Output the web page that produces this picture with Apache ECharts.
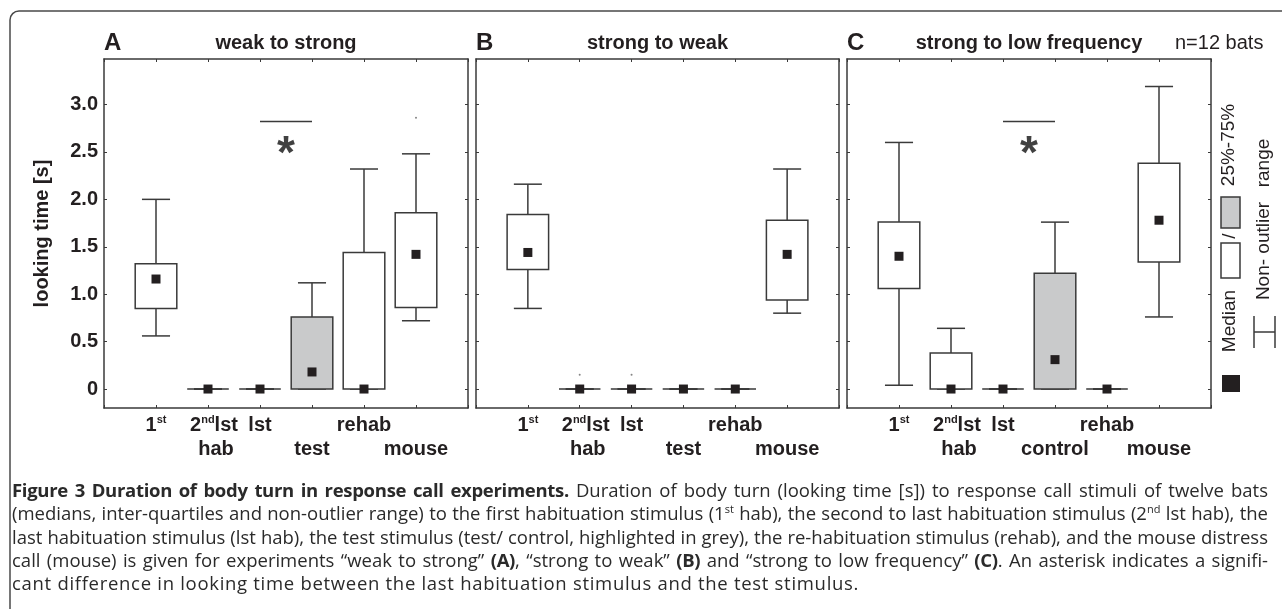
<!DOCTYPE html>
<html>
<head>
<meta charset="utf-8">
<script src="https://cdn.jsdelivr.net/npm/echarts@6.0.0/dist/echarts.min.js"></script>
<style>
  html, body { margin: 0; padding: 0; background: #fff; }
  #wrap { position: relative; width: 1282px; height: 609px; overflow: hidden; }
  #chart { width: 1282px; height: 609px; }
  #caption {
    position: absolute; left: 12px; top: 478px; width: 1256px;
    font-family: "Open Sans", "Noto Sans", sans-serif; font-size: 18.5px; line-height: 23.3px; color: #2a2a2a;
  }
  #caption div { text-align: justify; text-align-last: justify; }
  #caption div.last { text-align-last: left; letter-spacing: 0.7px; }
  #caption b { letter-spacing: -0.3px; }
  #caption sup { font-size: 11px; line-height: 0; vertical-align: 7px; }
</style>
</head>
<body>
<div id="wrap">
  <div id="chart"></div>
  <div id="caption">
    <div><b>Figure 3 Duration of body turn in response call experiments.</b> Duration of body turn (looking time [s]) to response call stimuli of twelve bats</div>
    <div>(medians, inter-quartiles and non-outlier range) to the first habituation stimulus (1<sup>st</sup> hab), the second to last habituation stimulus (2<sup>nd</sup> lst hab), the</div>
    <div>last habituation stimulus (lst hab), the test stimulus (test/ control, highlighted in grey), the re-habituation stimulus (rehab), and the mouse distress</div>
    <div>call (mouse) is given for experiments “weak to strong” <b>(A)</b>, “strong to weak” <b>(B)</b> and “strong to low frequency” <b>(C)</b>. An asterisk indicates a signifi-</div>
    <div class="last">cant difference in looking time between the last habituation stimulus and the test stimulus.</div>
  </div>
</div>
<script>
  // stimuli, in order on the x axis (positions 1..6)
  const STIMULI = ['1st', '2nd lst hab', 'lst hab', 'test', 'rehab', 'mouse'];
  // tick labels, two staggered rows (rich text markup for superscripts)
  const ROW1_LABELS = ['1{s|st}', '{g|}2{s|nd}lst', 'lst', '', 'rehab', ''];
  const ROW2_LABELS_AB = ['', '{h|hab}', '', 'test', '', 'mouse'];
  const ROW2_LABELS_C = ['', '{h|hab}', '', 'control', '', 'mouse'];
  const Y_TICKS = [0, 0.5, 1, 1.5, 2, 2.5, 3];

  // looking time [s]: [lower whisker, 25%, median, 75%, upper whisker]
  const weakToStrong = [
    [0.56, 0.85, 1.16, 1.32, 2.00],
    [0, 0, 0, 0, 0],
    [0, 0, 0, 0, 0],
    [0, 0, 0.18, 0.76, 1.12],
    [0, 0, 0, 1.44, 2.32],
    [0.72, 0.86, 1.42, 1.86, 2.48]
  ];
  const strongToWeak = [
    [0.85, 1.26, 1.44, 1.84, 2.16],
    [0, 0, 0, 0, 0],
    [0, 0, 0, 0, 0],
    [0, 0, 0, 0, 0],
    [0, 0, 0, 0, 0],
    [0.80, 0.94, 1.42, 1.78, 2.32]
  ];
  const strongToLowFreq = [
    [0.04, 1.06, 1.40, 1.76, 2.60],
    [0, 0, 0, 0.38, 0.64],
    [0, 0, 0, 0, 0],
    [0, 0, 0.31, 1.22, 1.76],
    [0, 0, 0, 0, 0],
    [0.76, 1.34, 1.78, 2.38, 3.19]
  ];
  // test stimulus highlighted in grey
  const HIGHLIGHT = [0, 0, 0, 1, 0, 0];
  // single outlier points
  const outliersA = [[6, 2.86]];
  const outliersB = [[2, 0.15], [3, 0.15]];
  // significance bar between lst hab and test, asterisk below it
  const sigBar = [[3, 2.82], [4, 2.82]];
  const sigStar = [[3.5, 2.57]];

  const FONT = '"Liberation Sans", Arial, Helvetica, sans-serif';
  const TEXT = '#231f20';
  const LINE = '#3a3a3a';

  const panels = [
    { letter: 'A', title: 'weak to strong', stats: weakToStrong, row2: ROW2_LABELS_AB, outliers: outliersA, sig: true, left: 104, width: 364 },
    { letter: 'B', title: 'strong to weak', stats: strongToWeak, row2: ROW2_LABELS_AB, outliers: outliersB, sig: false, left: 476, width: 363 },
    { letter: 'C', title: 'strong to low frequency', stats: strongToLowFreq, row2: ROW2_LABELS_C, outliers: [], sig: true, left: 847, width: 364 }
  ];

  const GRID_TOP = 59, GRID_H = 349;

  function renderBox(params, api) {
    const x = api.value(0);
    const unit = api.size([1, 0])[0];
    const boxHalf = unit * 0.4, capHalf = unit * 0.27, med = 9;
    const cx = api.coord([x, 0])[0];
    const yLo = api.coord([x, api.value(1)])[1];
    const yQ1 = api.coord([x, api.value(2)])[1];
    const yMed = api.coord([x, api.value(3)])[1];
    const yQ3 = api.coord([x, api.value(4)])[1];
    const yHi = api.coord([x, api.value(5)])[1];
    const st = { stroke: LINE, lineWidth: 1.5 };
    return {
      type: 'group',
      children: [
        { type: 'line', shape: { x1: cx, y1: yQ3, x2: cx, y2: yHi }, style: st },
        { type: 'line', shape: { x1: cx - capHalf, y1: yHi, x2: cx + capHalf, y2: yHi }, style: st },
        { type: 'line', shape: { x1: cx, y1: yQ1, x2: cx, y2: yLo }, style: st },
        { type: 'line', shape: { x1: cx - capHalf, y1: yLo, x2: cx + capHalf, y2: yLo }, style: st },
        { type: 'rect', shape: { x: cx - boxHalf, y: yQ3, width: boxHalf * 2, height: yQ1 - yQ3 },
          style: { fill: api.value(6) ? '#c9cacb' : '#fff', stroke: LINE, lineWidth: 1.5 } },
        { type: 'rect', shape: { x: cx - med / 2, y: yMed - med / 2, width: med, height: med }, style: { fill: TEXT } }
      ]
    };
  }

  const axisLine = { show: true, onZero: false, lineStyle: { color: LINE, width: 1.5 } };
  const axisTick = { show: true, inside: true, length: 3, lineStyle: { color: LINE, width: 1 } };
  const labelRich = {
    s: { fontSize: 11, fontWeight: 'bold', fontFamily: FONT, color: TEXT, verticalAlign: 'top', lineHeight: 12 },
    g: { width: 12 },
    h: { fontSize: 20, fontWeight: 'bold', fontFamily: FONT, color: TEXT, padding: [0, 0, 0, 16] }
  };

  const grid = [], xAxis = [], yAxis = [], series = [];

  panels.forEach((p, i) => {
    grid.push({ left: p.left, top: GRID_TOP, width: p.width, height: GRID_H, outerBoundsMode: 'none' });
    const xBase = { gridIndex: i, type: 'value', min: 0, max: 7, interval: 1, splitLine: { show: false } };
    xAxis.push(Object.assign({}, xBase, {
      position: 'bottom', axisLine, axisTick,
      axisLabel: {
        show: true, margin: 6, fontSize: 20, fontWeight: 'bold', fontFamily: FONT, color: TEXT, lineHeight: 22,
        rich: labelRich, formatter: v => ROW1_LABELS[v - 1] || ''
      }
    }));
    xAxis.push(Object.assign({}, xBase, {
      position: 'bottom', axisLine: { show: false }, axisTick: { show: false },
      axisLabel: {
        show: true, margin: 30, fontSize: 20, fontWeight: 'bold', fontFamily: FONT, color: TEXT, lineHeight: 22,
        rich: labelRich, formatter: v => p.row2[v - 1] || ''
      }
    }));
    xAxis.push(Object.assign({}, xBase, {
      position: 'top', axisLine, axisTick, axisLabel: { show: false }
    }));

    const yBase = { gridIndex: i, type: 'value', min: -0.2, max: 3.48, splitLine: { show: false } };
    yAxis.push(Object.assign({}, yBase, {
      position: 'left', axisLine,
      axisTick: Object.assign({ customValues: Y_TICKS }, axisTick),
      axisLabel: {
        show: i === 0, customValues: Y_TICKS, margin: 6, fontSize: 20, fontWeight: 'bold', fontFamily: FONT, color: TEXT,
        formatter: v => (v === 0 ? '0' : v.toFixed(1))
      },
      name: i === 0 ? 'looking time [s]' : '',
      nameLocation: 'middle', nameRotate: 90, nameGap: 52,
      nameTextStyle: { fontSize: 20, fontWeight: 'bold', fontFamily: FONT, color: TEXT }
    }));
    yAxis.push(Object.assign({}, yBase, {
      position: 'right', axisLine,
      axisTick: Object.assign({ customValues: Y_TICKS }, axisTick),
      axisLabel: { show: false }
    }));

    const xi = i * 3, yi = i * 2;
    series.push({
      type: 'custom', xAxisIndex: xi, yAxisIndex: yi, renderItem: renderBox, silent: true,
      encode: { x: 0, y: [1, 2, 3, 4, 5] },
      data: p.stats.map((s, k) => [k + 1].concat(s, HIGHLIGHT[k]))
    });
    if (p.outliers.length) {
      series.push({
        type: 'scatter', xAxisIndex: xi, yAxisIndex: yi, silent: true,
        symbolSize: 2, itemStyle: { color: '#666' }, data: p.outliers
      });
    }
    if (p.sig) {
      series.push({
        type: 'line', xAxisIndex: xi, yAxisIndex: yi, silent: true, symbol: 'none',
        lineStyle: { color: LINE, width: 1.5 }, data: sigBar
      });
      series.push({
        type: 'scatter', xAxisIndex: xi, yAxisIndex: yi, silent: true,
        symbolSize: 1, itemStyle: { color: 'rgba(0,0,0,0)' }, data: sigStar,
        label: {
          show: true, position: 'inside', formatter: '*', offset: [0, 10],
          fontSize: 46, fontWeight: 'bold', fontFamily: FONT, color: '#111'
        }
      });
    }
  });

  function txt(x, y, text, size, weight, extra) {
    return Object.assign({
      type: 'text', x, y, silent: true,
      style: { text, fontSize: size, fontWeight: weight, fontFamily: FONT, fill: TEXT, align: 'center', verticalAlign: 'middle' }
    }, extra || {});
  }

  const graphic = [
    { type: 'rect', silent: true, shape: { x: 10, y: 11, width: 1320, height: 640, r: 9 },
      style: { fill: 'none', stroke: '#4a4a4a', lineWidth: 1.5 } }
  ];
  panels.forEach(p => {
    const t = txt(p.left, 43, p.letter, 24, 'bold');
    t.style.align = 'left';
    graphic.push(t);
    graphic.push(txt(p.left + p.width / 2, 43, p.title, 20, 'bold'));
  });
  const nb = txt(1175, 43, 'n=12 bats', 20, 'normal');
  nb.style.align = 'left';
  graphic.push(nb);

  // key, drawn rotated to the right of panel C
  const R = Math.PI / 2;
  graphic.push(
    { type: 'rect', silent: true, shape: { x: 1222, y: 375, width: 18, height: 17 }, style: { fill: TEXT } },
    txt(1230, 321, 'Median', 19, 'normal', { rotation: R }),
    { type: 'rect', silent: true, shape: { x: 1221, y: 243, width: 19, height: 35 }, style: { fill: '#fff', stroke: LINE, lineWidth: 1.5 } },
    txt(1230, 236, '/', 19, 'normal', { rotation: R }),
    { type: 'rect', silent: true, shape: { x: 1221, y: 197, width: 19, height: 31 }, style: { fill: '#c9cacb', stroke: LINE, lineWidth: 1.5 } },
    txt(1229, 145, '25%-75%', 19, 'normal', { rotation: R }),
    txt(1264, 251, 'Non- outlier', 19, 'normal', { rotation: R }),
    txt(1264, 163, 'range', 19, 'normal', { rotation: R }),
    { type: 'line', silent: true, shape: { x1: 1254, y1: 332, x2: 1275, y2: 332 }, style: { stroke: LINE, lineWidth: 1.5 } },
    { type: 'line', silent: true, shape: { x1: 1254, y1: 316, x2: 1254, y2: 348 }, style: { stroke: LINE, lineWidth: 1.5 } },
    { type: 'line', silent: true, shape: { x1: 1275, y1: 316, x2: 1275, y2: 348 }, style: { stroke: LINE, lineWidth: 1.5 } }
  );

  const chart = echarts.init(document.getElementById('chart'), null, { renderer: 'canvas' });
  chart.setOption({
    animation: false,
    backgroundColor: '#fff',
    grid, xAxis, yAxis, series, graphic
  });
</script>
</body>
</html>
